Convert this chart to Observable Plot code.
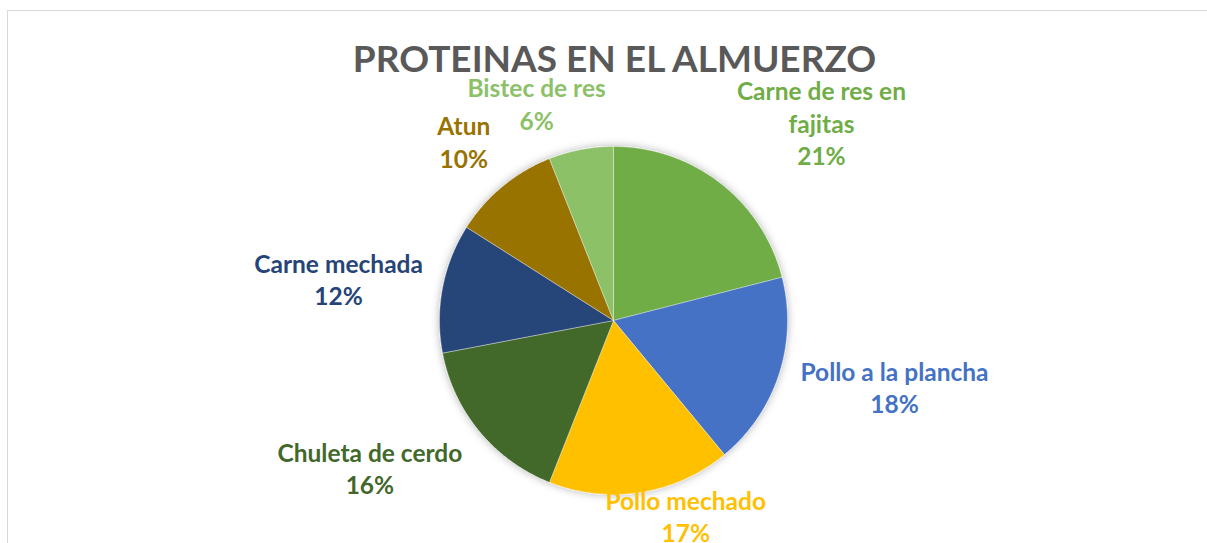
<!DOCTYPE html>
<html>
<head>
<meta charset="utf-8">
<script src="https://cdn.jsdelivr.net/npm/d3@7"></script>
<script src="https://cdn.jsdelivr.net/npm/@observablehq/plot@0.6"></script>
<style>
  html, body { margin: 0; padding: 0; background: #fff; }
  #wrap { position: relative; width: 1207px; height: 543px; overflow: hidden; }
  #frame { position: absolute; left: 7px; top: 10px; right: -2px; bottom: -2px; border-left: 1.5px solid #d9d9d9; border-top: 1.5px solid #d9d9d9; pointer-events: none; }
  #wrap svg { position: absolute; left: 0; top: 0; }
</style>
</head>
<body>
<div id="wrap"><div id="frame"></div></div>
<script>
// ---- data ----
const categories = ["Carne de res en fajitas", "Pollo a la plancha", "Pollo mechado", "Chuleta de cerdo", "Carne mechada", "Atun", "Bistec de res"];
const labelText  = ["Carne de res en\nfajitas", "Pollo a la plancha", "Pollo mechado", "Chuleta de cerdo", "Carne mechada", "Atun", "Bistec de res"];
const shares     = [21, 18, 17, 16, 12, 10, 6];
const colors     = ["#70AD47", "#4472C4", "#FFC000", "#43682B", "#264478", "#997300", "#8CC168"];
const title = "PROTEINAS EN EL ALMUERZO";

// ---- layout (pixels) ----
const W = 1207, H = 543;
const cx = 613, cy = 320, R = 174;
// label block centres as offsets from pie centre, in radius units
const labelOffset = [[1.195, -1.14], [1.615, 0.38], [0.415, 1.12], [-1.40, 0.845], [-1.58, -0.24], [-0.86, -1.03], [-0.442, -1.25]];

const pie = d3.pie().sort(null).value(d => d.v)(categories.map((c, i) => ({c, v: shares[i]})));
const slicePts = [];
pie.forEach(p => {
  const n = Math.max(4, Math.ceil((p.endAngle - p.startAngle) / 0.01));
  slicePts.push({name: p.data.c, x: cx, y: cy});
  for (let k = 0; k <= n; k++) {
    const a = p.startAngle + (p.endAngle - p.startAngle) * k / n;
    slicePts.push({name: p.data.c, x: cx + R * Math.sin(a), y: cy - R * Math.cos(a)});
  }
  slicePts.push({name: p.data.c, x: cx, y: cy});
});
const labels = categories.map((c, i) => ({
  name: c,
  text: labelText[i] + "\n" + shares[i] + "%",
  x: cx + labelOffset[i][0] * R,
  y: cy + labelOffset[i][1] * R
}));

const chart = Plot.plot({
  width: W, height: H,
  margin: 0,
  x: {domain: [0, W], range: [0, W], axis: null},
  y: {domain: [0, H], range: [0, H], axis: null},
  color: {domain: categories, range: colors},
  marks: [
    Plot.line(slicePts, {x: "x", y: "y", z: "name", fill: "name", stroke: "white", strokeWidth: 0.8, strokeOpacity: 0.45, curve: "linear"}),
    Plot.text(labels, {x: "x", y: "y", text: "text", fill: "name", fontSize: 24.5, fontWeight: "bold", fontFamily: "Lato", lineHeight: 1.33, textAnchor: "middle", lineAnchor: "middle"}),
    Plot.text([title], {x: () => 614, y: () => 71, text: d => d, fill: "#595959", fontSize: 37, fontWeight: "bold", fontFamily: "Lato", textAnchor: "middle", lineAnchor: "bottom"})
  ]
});
const svg = d3.select(chart);
const defs = svg.insert("defs", ":first-child");
const f = defs.append("filter").attr("id", "pieShadow").attr("x", "-20%").attr("y", "-20%").attr("width", "140%").attr("height", "140%");
f.append("feDropShadow").attr("dx", 0).attr("dy", 0).attr("stdDeviation", 4).attr("flood-color", "#000").attr("flood-opacity", 0.3);
svg.select('g[aria-label="line"]').attr("filter", "url(#pieShadow)");
document.getElementById("wrap").insertBefore(chart, document.getElementById("frame"));
</script>
</body>
</html>
